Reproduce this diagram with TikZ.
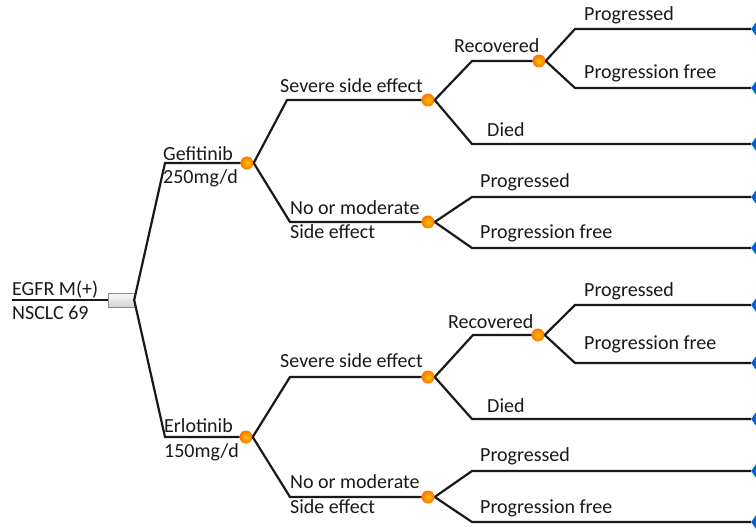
\documentclass[tikz,border=0pt]{standalone}
\usepackage{fontspec}
\setmainfont{Carlito}
\usetikzlibrary{shapes.geometric}

\begin{document}
\begin{tikzpicture}[
    x=1pt, y=-1pt,
    branch/.style={line width=2.2pt, draw=black!90},
    chance/.style={circle, inner color=orange!45!yellow, outer color=orange!90!red, minimum size=13pt, inner sep=0pt},
    decision/.style={rectangle, draw=black!45, top color=gray!5, bottom color=gray!35, minimum width=26pt, minimum height=14pt, inner sep=0pt},
    outcome/.style={isosceles triangle, isosceles triangle apex angle=110, shape border rotate=180, fill=blue!55!cyan!85!black, minimum height=16pt, inner sep=0pt, anchor=apex},
    lbl/.style={anchor=mid west, inner sep=0pt, yshift=-3.5pt, font=\fontsize{20}{22}\selectfont, text=black!90}
]
\useasboundingbox (0,0) rectangle (756,532);
\clip (0,0) rectangle (756,532);

% Wurzel
\coordinate (start) at (12,300);
\node[decision] (root) at (121,300) {};
\node[lbl] (lbl-egfr) at (12,290) {EGFR M(+)};
\node[lbl] (lbl-nsclc) at (12,314) {NSCLC 69};

% Gefitinib-Arm
\coordinate (gef-c) at (165,163);
\node[chance] (gef) at (247,163) {};
\node[lbl] (lbl-gef) at (163,155) {Gefitinib};
\node[lbl] (lbl-gef2) at (163,178) {250mg/d};

\coordinate (gsev-c) at (287,100);
\node[chance] (gsev) at (428,100) {};
\node[lbl] (lbl-gsev) at (280,87) {Severe side effect};

\coordinate (grec-c) at (472,61);
\node[chance] (grec) at (539,61) {};
\node[lbl] (lbl-grec) at (454,47) {Recovered};

\coordinate (gprog1-c) at (575,29);
\node[outcome] (gprog1) at (751,29) {};
\node[lbl] (lbl-gprog1) at (584,15) {Progressed};
\coordinate (gfree1-c) at (575,88);
\node[outcome] (gfree1) at (751,88) {};
\node[lbl] (lbl-gfree1) at (584,73) {Progression free};

\coordinate (gdied-c) at (472,144);
\node[outcome] (gdied) at (751,144) {};
\node[lbl] (lbl-gdied) at (487,131) {Died};

\coordinate (gmod-c) at (290,222);
\node[chance] (gmod) at (428,222) {};
\node[lbl] (lbl-gmod) at (290,209) {No or moderate};
\node[lbl] (lbl-gmod2) at (290,233) {Side effect};

\coordinate (gprog2-c) at (472,197);
\node[outcome] (gprog2) at (751,197) {};
\node[lbl] (lbl-gprog2) at (480,182) {Progressed};
\coordinate (gfree2-c) at (472,248);
\node[outcome] (gfree2) at (751,248) {};
\node[lbl] (lbl-gfree2) at (480,233) {Progression free};

% Erlotinib-Arm
\coordinate (erl-c) at (165,437);
\node[chance] (erl) at (246,437) {};
\node[lbl] (lbl-erl) at (164,427) {Erlotinib};
\node[lbl] (lbl-erl2) at (164,452) {150mg/d};

\coordinate (esev-c) at (290,377);
\node[chance] (esev) at (428,377) {};
\node[lbl] (lbl-esev) at (280,362) {Severe side effect};

\coordinate (erec-c) at (473,335);
\node[chance] (erec) at (538,335) {};
\node[lbl] (lbl-erec) at (448,323) {Recovered};

\coordinate (eprog1-c) at (575,305);
\node[outcome] (eprog1) at (751,305) {};
\node[lbl] (lbl-eprog1) at (584,291) {Progressed};
\coordinate (efree1-c) at (575,363);
\node[outcome] (efree1) at (751,363) {};
\node[lbl] (lbl-efree1) at (584,344) {Progression free};

\coordinate (edied-c) at (472,419);
\node[outcome] (edied) at (751,419) {};
\node[lbl] (lbl-edied) at (487,407) {Died};

\coordinate (emod-c) at (290,497);
\node[chance] (emod) at (428,497) {};
\node[lbl] (lbl-emod) at (290,483) {No or moderate};
\node[lbl] (lbl-emod2) at (290,508) {Side effect};

\coordinate (eprog2-c) at (472,471);
\node[outcome] (eprog2) at (751,471) {};
\node[lbl] (lbl-eprog2) at (480,456) {Progressed};
\coordinate (efree2-c) at (472,522);
\node[outcome] (efree2) at (751,522) {};
\node[lbl] (lbl-efree2) at (480,508) {Progression free};

% Aeste
\draw[branch] (start) -- (root);
\draw[branch] (root.east) -- (gef-c) -- (gef);
\draw[branch] (root.east) -- (erl-c) -- (erl);

\draw[branch] (gef.east) -- (gsev-c) -- (gsev);
\draw[branch] (gef.east) -- (gmod-c) -- (gmod);
\draw[branch] (gsev.east) -- (grec-c) -- (grec);
\draw[branch] (gsev.east) -- (gdied-c) -- (gdied);
\draw[branch] (grec.east) -- (gprog1-c) -- (gprog1);
\draw[branch] (grec.east) -- (gfree1-c) -- (gfree1);
\draw[branch] (gmod.east) -- (gprog2-c) -- (gprog2);
\draw[branch] (gmod.east) -- (gfree2-c) -- (gfree2);

\draw[branch] (erl.east) -- (esev-c) -- (esev);
\draw[branch] (erl.east) -- (emod-c) -- (emod);
\draw[branch] (esev.east) -- (erec-c) -- (erec);
\draw[branch] (esev.east) -- (edied-c) -- (edied);
\draw[branch] (erec.east) -- (eprog1-c) -- (eprog1);
\draw[branch] (erec.east) -- (efree1-c) -- (efree1);
\draw[branch] (emod.east) -- (eprog2-c) -- (eprog2);
\draw[branch] (emod.east) -- (efree2-c) -- (efree2);
\end{tikzpicture}
\end{document}
